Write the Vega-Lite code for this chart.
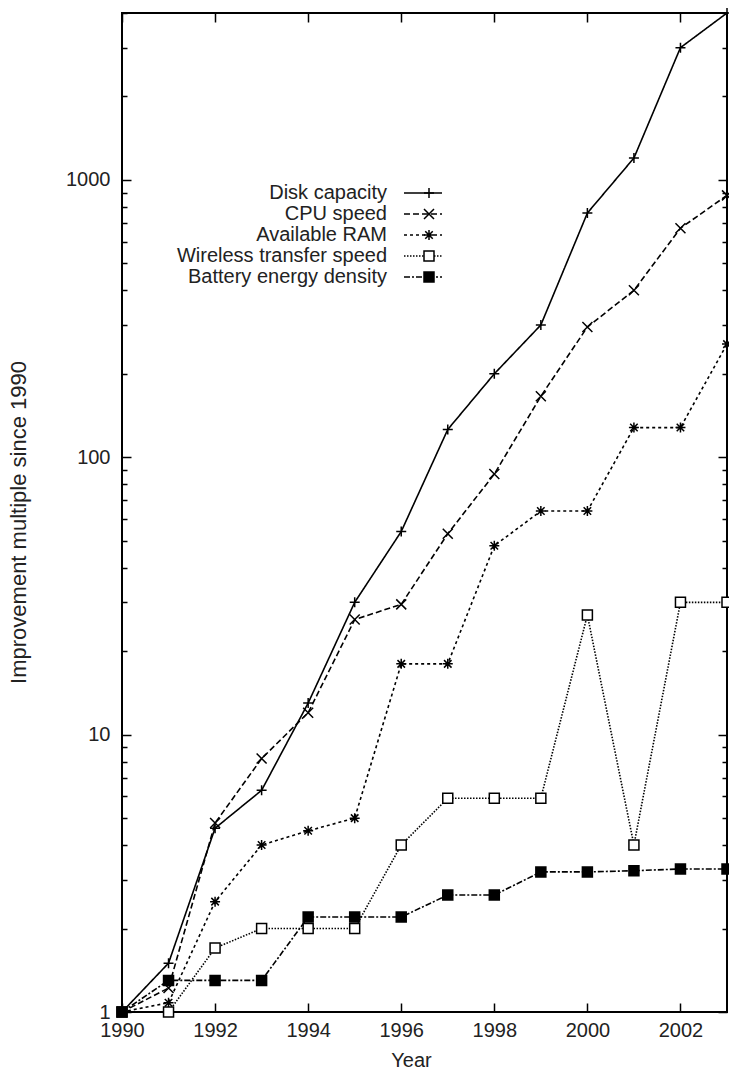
{
  "$schema": "https://vega.github.io/schema/vega-lite/v6.json",
  "width": 605,
  "height": 999,
  "autosize": {"type": "none"},
  "padding": {"left": 122, "top": 13, "right": 2, "bottom": 59},
  "config": {
    "font": "Liberation Sans",
    "view": {"stroke": "black", "strokeWidth": 2},
    "axis": {
      "grid": false,
      "domain": false,
      "tickColor": "black",
      "tickWidth": 1.5,
      "labelFont": "Liberation Sans",
      "labelFontSize": 20,
      "labelColor": "#222",
      "titleFont": "Liberation Sans",
      "titleFontSize": 20,
      "titleFontWeight": "normal",
      "titleColor": "#222",
      "labelFlush": false,
      "labelOverlap": false
    }
  },
  "data": {
    "values": [
      {"series": "Disk capacity", "year": 1990, "value": 1},
      {"series": "Disk capacity", "year": 1991, "value": 1.5},
      {"series": "Disk capacity", "year": 1992, "value": 4.6},
      {"series": "Disk capacity", "year": 1993, "value": 6.3},
      {"series": "Disk capacity", "year": 1994, "value": 13},
      {"series": "Disk capacity", "year": 1995, "value": 30},
      {"series": "Disk capacity", "year": 1996, "value": 54},
      {"series": "Disk capacity", "year": 1997, "value": 126},
      {"series": "Disk capacity", "year": 1998, "value": 200},
      {"series": "Disk capacity", "year": 1999, "value": 300},
      {"series": "Disk capacity", "year": 2000, "value": 760},
      {"series": "Disk capacity", "year": 2001, "value": 1200},
      {"series": "Disk capacity", "year": 2002, "value": 3000},
      {"series": "Disk capacity", "year": 2003, "value": 4000},
      {"series": "CPU speed", "year": 1990, "value": 1},
      {"series": "CPU speed", "year": 1991, "value": 1.22},
      {"series": "CPU speed", "year": 1992, "value": 4.8},
      {"series": "CPU speed", "year": 1993, "value": 8.2},
      {"series": "CPU speed", "year": 1994, "value": 12},
      {"series": "CPU speed", "year": 1995, "value": 26},
      {"series": "CPU speed", "year": 1996, "value": 29.5},
      {"series": "CPU speed", "year": 1997, "value": 53},
      {"series": "CPU speed", "year": 1998, "value": 87},
      {"series": "CPU speed", "year": 1999, "value": 166},
      {"series": "CPU speed", "year": 2000, "value": 295},
      {"series": "CPU speed", "year": 2001, "value": 400},
      {"series": "CPU speed", "year": 2002, "value": 670},
      {"series": "CPU speed", "year": 2003, "value": 880},
      {"series": "Available RAM", "year": 1990, "value": 1},
      {"series": "Available RAM", "year": 1991, "value": 1.08},
      {"series": "Available RAM", "year": 1992, "value": 2.5},
      {"series": "Available RAM", "year": 1993, "value": 4},
      {"series": "Available RAM", "year": 1994, "value": 4.5},
      {"series": "Available RAM", "year": 1995, "value": 5},
      {"series": "Available RAM", "year": 1996, "value": 18},
      {"series": "Available RAM", "year": 1997, "value": 18},
      {"series": "Available RAM", "year": 1998, "value": 48},
      {"series": "Available RAM", "year": 1999, "value": 64},
      {"series": "Available RAM", "year": 2000, "value": 64},
      {"series": "Available RAM", "year": 2001, "value": 128},
      {"series": "Available RAM", "year": 2002, "value": 128},
      {"series": "Available RAM", "year": 2003, "value": 256},
      {"series": "Wireless transfer speed", "year": 1990, "value": 1},
      {"series": "Wireless transfer speed", "year": 1991, "value": 1},
      {"series": "Wireless transfer speed", "year": 1992, "value": 1.7},
      {"series": "Wireless transfer speed", "year": 1993, "value": 2},
      {"series": "Wireless transfer speed", "year": 1994, "value": 2},
      {"series": "Wireless transfer speed", "year": 1995, "value": 2},
      {"series": "Wireless transfer speed", "year": 1996, "value": 4},
      {"series": "Wireless transfer speed", "year": 1997, "value": 5.9},
      {"series": "Wireless transfer speed", "year": 1998, "value": 5.9},
      {"series": "Wireless transfer speed", "year": 1999, "value": 5.9},
      {"series": "Wireless transfer speed", "year": 2000, "value": 27},
      {"series": "Wireless transfer speed", "year": 2001, "value": 4},
      {"series": "Wireless transfer speed", "year": 2002, "value": 30},
      {"series": "Wireless transfer speed", "year": 2003, "value": 30},
      {"series": "Battery energy density", "year": 1990, "value": 1},
      {"series": "Battery energy density", "year": 1991, "value": 1.3},
      {"series": "Battery energy density", "year": 1992, "value": 1.3},
      {"series": "Battery energy density", "year": 1993, "value": 1.3},
      {"series": "Battery energy density", "year": 1994, "value": 2.2},
      {"series": "Battery energy density", "year": 1995, "value": 2.2},
      {"series": "Battery energy density", "year": 1996, "value": 2.2},
      {"series": "Battery energy density", "year": 1997, "value": 2.64},
      {"series": "Battery energy density", "year": 1998, "value": 2.64},
      {"series": "Battery energy density", "year": 1999, "value": 3.2},
      {"series": "Battery energy density", "year": 2000, "value": 3.2},
      {"series": "Battery energy density", "year": 2001, "value": 3.23},
      {"series": "Battery energy density", "year": 2002, "value": 3.28},
      {"series": "Battery energy density", "year": 2003, "value": 3.28}
    ]
  },
  "layer": [
    {
      "mark": {"type": "line", "color": "black", "strokeWidth": 1.6},
      "encoding": {
        "x": {
          "field": "year", "type": "quantitative",
          "scale": {"domain": [1990, 2003], "nice": false, "zero": false},
          "axis": {
            "orient": "bottom",
            "values": [1990, 1992, 1994, 1996, 1998, 2000, 2002],
            "format": "d",
            "tickSize": -9,
            "labelPadding": 17,
            "title": "Year",
            "titleX": 289,
            "titleY": 38,
            "titleBaseline": "top"
          }
        },
        "y": {
          "field": "value", "type": "quantitative",
          "scale": {"type": "log", "domain": [1, 4000], "nice": false},
          "axis": {
            "orient": "left",
            "values": [1,2,3,4,5,6,7,8,9,10,20,30,40,50,60,70,80,90,100,200,300,400,500,600,700,800,900,1000,2000,3000,4000],
            "format": "d",
            "labelExpr": "(datum.value == 1 || datum.value == 10 || datum.value == 100 || datum.value == 1000) ? datum.label : ''",
            "tickSize": -9,
            "tickDash": {"condition": {"test": "datum.value != 1 && datum.value != 10 && datum.value != 100 && datum.value != 1000", "value": [5, 40]}, "value": [40, 0]},
            "labelPadding": 21,
            "title": "Improvement multiple since 1990",
            "titleFontSize": 22,
            "titleX": -92,
            "titleY": 509
          }
        },
        "strokeDash": {
          "field": "series", "type": "nominal",
          "scale": {
            "domain": ["Disk capacity", "CPU speed", "Available RAM", "Wireless transfer speed", "Battery energy density"],
            "range": [[1, 0], [6, 3], [3, 3], [1.5, 1.5], [6, 2, 2, 2]]
          },
          "legend": {
            "orient": "none",
            "legendX": 291,
            "legendY": 170,
            "title": null,
            "padding": 0,
            "symbolType": "M-4.75,0H4.75",
            "symbolSize": 64,
            "symbolStrokeWidth": 1.6,
            "symbolStrokeColor": "black",
            "symbolFillColor": "transparent",
            "labelAlign": "right",
            "labelOffset": -46,
            "labelFont": "Liberation Sans",
            "labelFontSize": 20,
            "labelColor": "#222",
            "labelLimit": 400,
            "rowPadding": 1
          }
        }
      }
    },
    {
      "mark": {"type": "point", "filled": true, "fill": "white", "stroke": "black", "strokeWidth": 1.5, "opacity": 1, "size": 100},
      "encoding": {
        "x": {
          "field": "year", "type": "quantitative",
          "axis": {
            "orient": "top",
            "values": [1990, 1992, 1994, 1996, 1998, 2000, 2002],
            "labels": false,
            "tickSize": -9,
            "title": null
          }
        },
        "y": {
          "field": "value", "type": "quantitative",
          "axis": {
            "orient": "right",
            "values": [1,2,3,4,5,6,7,8,9,10,20,30,40,50,60,70,80,90,100,200,300,400,500,600,700,800,900,1000,2000,3000,4000],
            "labels": false,
            "tickSize": -9,
            "tickDash": {"condition": {"test": "datum.value != 1 && datum.value != 10 && datum.value != 100 && datum.value != 1000", "value": [5, 40]}, "value": [40, 0]},
            "title": null
          }
        },
        "shape": {
          "field": "series", "type": "nominal",
          "scale": {
            "range": [
              "M-1,0H1M0,-1V1M-0.75,-0.75L0.75,0.75M-0.75,0.75L0.75,-0.75",
              "M-1,-1H1V1H-1Z M-1,-0.7H1 M-1,-0.4H1 M-1,-0.1H1 M-1,0.2H1 M-1,0.5H1 M-1,0.8H1",
              "M-1,-1L1,1M-1,1L1,-1",
              "M-1,0H1M0,-1V1",
              "square"
            ]
          },
          "legend": {
            "orient": "none",
            "legendX": 297,
            "legendY": 170,
            "title": null,
            "padding": 0,
            "values": ["Disk capacity", "CPU speed", "Available RAM", "Wireless transfer speed", "Battery energy density"],
            "symbolSize": 100,
            "symbolStrokeWidth": 1.5,
            "symbolFillColor": "white",
            "labelOpacity": 0,
            "labelFontSize": 20,
            "labelLimit": 400,
            "rowPadding": 1,
            "encode": {
              "symbols": {
                "stroke": {"value": "black"},
                "strokeWidth": {"value": 1.5},
                "opacity": {"value": 1}
              }
            }
          }
        }
      }
    }
  ],
  "resolve": {"axis": {"x": "independent", "y": "independent"}}
}
